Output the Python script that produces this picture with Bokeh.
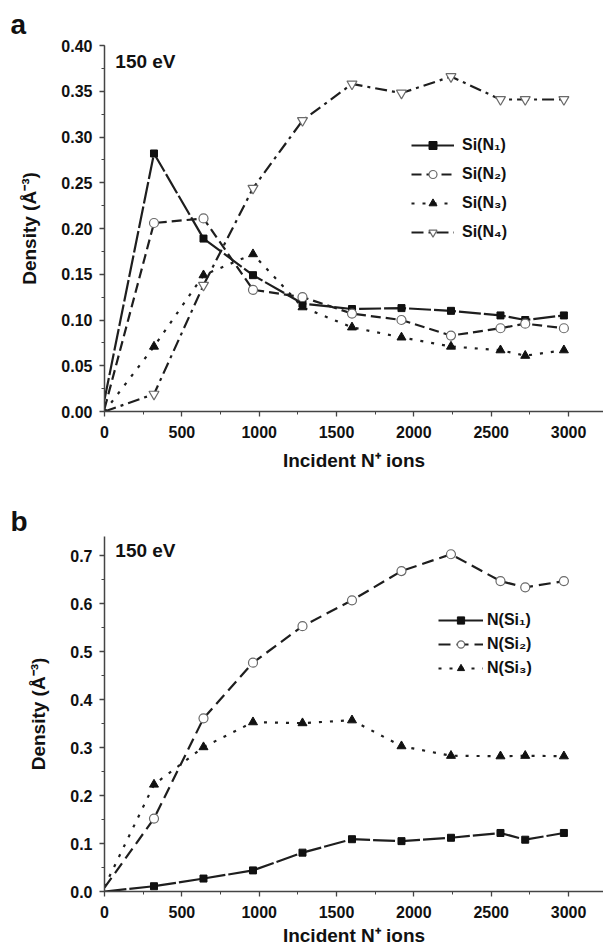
from bokeh.plotting import figure
from bokeh.layouts import column
from bokeh.models import Range1d, Legend, LegendItem, Label, SingleIntervalTicker, NumeralTickFormatter
from bokeh.embed import file_html
from bokeh.resources import INLINE

# ---- data ----
ions = [0, 320, 640, 960, 1280, 1600, 1920, 2240, 2560, 2720, 2970]
si_n1 = [0.013, 0.282, 0.189, 0.149, 0.118, 0.112, 0.113, 0.110, 0.105, 0.100, 0.105]
si_n2 = [0.003, 0.206, 0.211, 0.133, 0.125, 0.107, 0.100, 0.083, 0.091, 0.096, 0.091]
si_n3 = [0.0, 0.071, 0.149, 0.172, 0.114, 0.092, 0.081, 0.071, 0.067, 0.061, 0.067]
si_n4 = [0.0, 0.019, 0.138, 0.244, 0.318, 0.358, 0.348, 0.366, 0.341, 0.341, 0.341]
n_si1 = [0.0, 0.011, 0.027, 0.044, 0.081, 0.109, 0.105, 0.112, 0.122, 0.108, 0.122]
n_si2 = [0.008, 0.152, 0.361, 0.477, 0.553, 0.607, 0.668, 0.703, 0.647, 0.634, 0.647]
n_si3 = [0.01, 0.223, 0.301, 0.353, 0.351, 0.357, 0.303, 0.283, 0.282, 0.283, 0.282]

labels_a = ["Si(N\u2081)", "Si(N\u2082)", "Si(N\u2083)", "Si(N\u2084)"]
labels_b = ["N(Si\u2081)", "N(Si\u2082)", "N(Si\u2083)"]

FONT = "Liberation Sans"
LINE = "#1e1e1e"
GRAY = "#6a6a6a"

styles = {
    "sq": dict(marker="square", size=7, fill_color="#111111", line_color="#111111"),
    "ci": dict(marker="circle", size=9, fill_color="white", line_color=GRAY, line_width=1.2),
    "tr": dict(marker="triangle", size=9, fill_color="#111111", line_color="#111111"),
    "it": dict(marker="inverted_triangle", size=10, fill_color="white", line_color=GRAY, line_width=1.2),
}


def make_fig(height, y_end, y_int, fmt, border_top, border_bottom, panel_letter, title_standoff):
    p = figure(width=603, height=height, output_backend="svg", toolbar_location=None,
               x_range=Range1d(0, 3226), y_range=Range1d(0, y_end),
               min_border_left=104, min_border_right=0,
               min_border_top=border_top, min_border_bottom=border_bottom)
    p.outline_line_color = None
    p.xgrid.visible = False
    p.ygrid.visible = False
    p.background_fill_color = "white"
    p.title.text = panel_letter
    p.title.align = "left"
    p.title.offset = -94
    p.title.standoff = title_standoff
    p.title.vertical_align = "bottom"
    p.title.text_font = FONT
    p.title.text_font_style = "bold"
    p.title.text_font_size = "28px"
    p.title.text_color = "#111111"
    p.xaxis.ticker = SingleIntervalTicker(interval=500, num_minor_ticks=2)
    p.yaxis.ticker = SingleIntervalTicker(interval=y_int, num_minor_ticks=2)
    p.yaxis.formatter = NumeralTickFormatter(format=fmt)
    for ax in (p.xaxis[0], p.yaxis[0]):
        ax.axis_line_color = "#444444"
        ax.axis_line_width = 1.5
        ax.major_tick_line_color = "#444444"
        ax.minor_tick_line_color = "#444444"
        ax.major_tick_line_width = 1.3
        ax.major_tick_out = 5
        ax.major_tick_in = 0
        ax.minor_tick_out = 3
        ax.minor_tick_in = 0
        ax.major_label_text_font = FONT
        ax.major_label_text_font_style = "bold"
        ax.major_label_text_font_size = "16px"
        ax.major_label_text_color = "#111111"
        ax.axis_label_text_font = FONT
        ax.axis_label_text_font_style = "bold"
        ax.axis_label_text_font_size = "19px"
        ax.axis_label_text_color = "#111111"
    p.xaxis.major_label_standoff = 9
    p.yaxis.major_label_standoff = 7
    p.xaxis.axis_label = "Incident N\u207a ions"
    p.yaxis.axis_label = "Density (\u00c5\u207b\u00b3)"
    p.yaxis.axis_label_standoff = 18
    return p


def add_series(p, ys, dash, key, label):
    r1 = p.line(ions, ys, line_color=LINE, line_width=2.2, line_dash=dash)
    r2 = p.scatter(ions[1:], ys[1:], **styles[key])
    return LegendItem(label=label, renderers=[r1, r2])


# ---- panel a ----
pa = make_fig(476, 0.40, 0.05, "0.00", 44, 65, "a", 12)
pa.xaxis.axis_label_standoff = 9
items_a = [
    add_series(pa, si_n1, "22 3", "sq", labels_a[0]),
    add_series(pa, si_n2, "10 5", "ci", labels_a[1]),
    add_series(pa, si_n3, "3 8", "tr", labels_a[2]),
    add_series(pa, si_n4, "12 5 3 5", "it", labels_a[3]),
]
leg_a = Legend(items=items_a, location=(307, 169), padding=0, margin=0,
               glyph_width=43, glyph_height=20, label_height=20, spacing=9,
               label_standoff=8, background_fill_alpha=0, border_line_color=None,
               label_text_font=FONT, label_text_font_style="bold", label_text_font_size="16px",
               label_text_color="#111111")
pa.add_layout(leg_a)
pa.add_layout(Label(x=70, y=0.383, text="150 eV", text_font=FONT, text_font_style="bold",
                    text_font_size="19px", text_baseline="middle", text_color="#111111"))

# ---- panel b ----
pb = make_fig(472, 0.74, 0.1, "0.0", 60, 20, "b", 0)
pb.xaxis.axis_label_standoff = 4
items_b = [
    add_series(pb, n_si1, "22 3", "sq", labels_b[0]),
    add_series(pb, n_si2, "12 6", "ci", labels_b[1]),
    add_series(pb, n_si3, "3 8", "tr", labels_b[2]),
]
leg_b = Legend(items=items_b, location=(334, 214), padding=0, margin=0,
               glyph_width=45, glyph_height=18, label_height=18, spacing=6,
               label_standoff=4, background_fill_alpha=0, border_line_color=None,
               label_text_font=FONT, label_text_font_style="bold", label_text_font_size="16px",
               label_text_color="#111111")
pb.add_layout(leg_b)
pb.add_layout(Label(x=70, y=0.71, text="150 eV", text_font=FONT, text_font_style="bold",
                    text_font_size="19px", text_baseline="middle", text_color="#111111"))

layout = column(pa, pb, spacing=0)
open("out.html", "w").write(file_html(layout, INLINE))
